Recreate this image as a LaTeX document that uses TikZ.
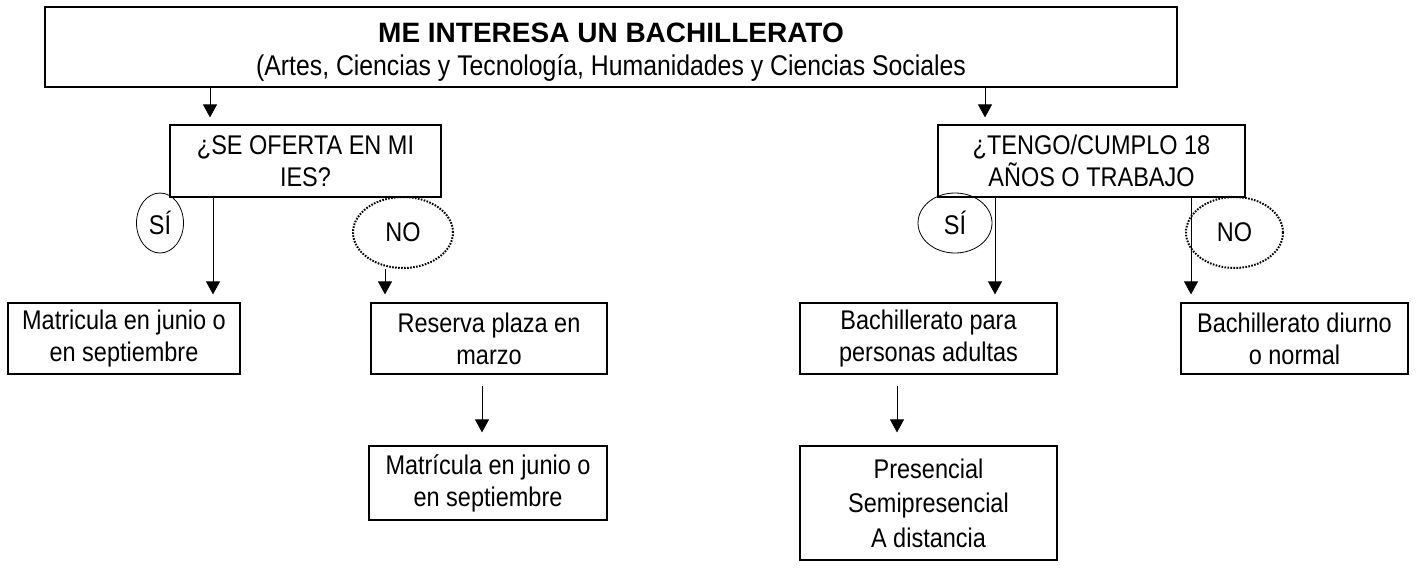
\documentclass[tikz,border=0pt]{standalone}
\usepackage{fontspec}
\setmainfont[FakeStretch=0.87]{Liberation Sans}
\newfontfamily\diatitlefont[FakeStretch=1.0]{Liberation Sans}
\usetikzlibrary{arrows.meta,shapes.geometric}
\newcommand\diafs{\fontsize{27}{32}\selectfont}
\tikzset{
  box/.style={draw, line width=1.2pt, rectangle, inner sep=0pt, align=center, font=\diafs},
  plain/.style={inner sep=0pt, align=center, font=\diafs},
  yes/.style={draw, line width=0.8pt, ellipse, inner sep=0pt, font=\diafs},
  no/.style={draw, line width=2pt, ellipse, inner sep=0pt, font=\diafs, dash pattern=on 1.6pt off 1.4pt},
  arr/.style={line width=0.8pt, -{Triangle[width=14pt,length=13pt]}},
}
\begin{document}
\begin{tikzpicture}[x=1pt,y=-1pt]
\useasboundingbox (0,0) rectangle (1419,576);
% top box
\node[box, minimum width=1132pt, minimum height=80pt] (top) at (611,47) {};
\node[plain, font=\diatitlefont\bfseries\fontsize{28}{32}\selectfont] (title) at (611,33) {ME INTERESA UN BACHILLERATO};
\node[plain, font=\fontsize{28.5}{32}\selectfont] (sub) at (611,68) {(Artes, Ciencias y Tecnología, Humanidades y Ciencias Sociales};
% question boxes
\node[box, minimum width=271pt, minimum height=72pt] (q1) at (305.5,161) {¿SE OFERTA EN MI\\IES?};
\node[box, minimum width=307pt, minimum height=72pt] (q2) at (1091.5,161) {¿TENGO/CUMPLO 18\\AÑOS O TRABAJO};
% ellipses
\node[yes, minimum width=47pt, minimum height=60pt] (s1) at (160,223) {SÍ};
\node[no, minimum width=100pt, minimum height=71pt] (n1) at (403,232.5) {NO};
\node[yes, minimum width=74pt, minimum height=60pt] (s2) at (955,223) {SÍ};
\node[no, minimum width=97pt, minimum height=71pt] (n2) at (1234.5,232.5) {NO};
% level 3
\node[box, minimum width=232pt, minimum height=71pt] (m1) at (124,338.5) {Matricula en junio o\\en septiembre};
\node[box, minimum width=236pt, minimum height=71pt] (r1) at (489,338.5) {Reserva plaza en\\marzo};
\node[box, minimum width=257pt, minimum height=71pt] (b1) at (928.5,338.5) {Bachillerato para\\personas adultas};
\node[box, minimum width=227pt, minimum height=71pt] (d1) at (1294.5,338.5) {Bachillerato diurno\\o normal};
% level 4
\node[box, minimum width=238pt, minimum height=74pt] (m2) at (488,483) {Matrícula en junio o\\en septiembre};
\node[box, minimum width=257pt, minimum height=114pt, font=\fontsize{27}{34.5}\selectfont] (p1) at (928.5,503) {Presencial\\Semipresencial\\A distancia};
% arrow x positions
\coordinate (a1) at (210,0);
\coordinate (a2) at (985,0);
\coordinate (a3) at (213,0);
\coordinate (a4) at (385,0);
\coordinate (a5) at (995,0);
\coordinate (a6) at (1191,0);
\coordinate (a7) at (482,0);
\coordinate (a8) at (897,0);
% arrows
\draw[arr, shorten >=7pt] (top.south -| a1) -- (q1.north -| a1);
\draw[arr, shorten >=7pt] (top.south -| a2) -- (q2.north -| a2);
\draw[arr, shorten >=8pt] (q1.south -| a3) -- (m1.north -| a3);
\draw[arr, shorten >=8pt] (n1.south -| a4) -- (r1.north -| a4);
\draw[arr, shorten >=8pt] (q2.south -| a5) -- (b1.north -| a5);
\draw[arr, shorten >=8pt] (q2.south -| a6) -- (d1.north -| a6);
\draw[arr, shorten <=11pt, shorten >=13pt] (r1.south -| a7) -- (m2.north -| a7);
\draw[arr, shorten <=11pt, shorten >=13pt] (b1.south -| a8) -- (p1.north -| a8);
\end{tikzpicture}
\end{document}
